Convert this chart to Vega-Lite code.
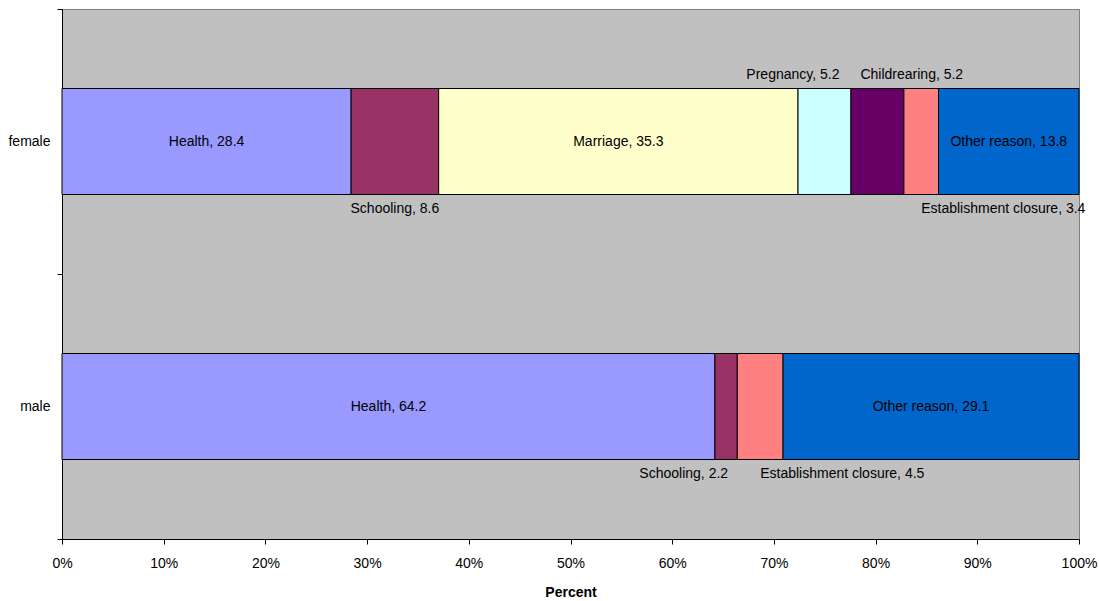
{
  "$schema": "https://vega.github.io/schema/vega-lite/v6.json",
  "width": 1017,
  "height": 530,
  "autosize": {"type": "none"},
  "padding": {"left": 62, "top": 9, "right": 20, "bottom": 62},
  "background": "white",
  "config": {
    "view": {"fill": "#C0C0C0", "stroke": "#808080", "strokeWidth": 1},
    "font": "Liberation Sans",
    "axis": {"labelFont": "Liberation Sans", "titleFont": "Liberation Sans", "labelColor": "black", "titleColor": "black", "domainColor": "black", "tickColor": "black", "labelFontSize": 14, "titleFontSize": 14, "grid": false}
  },
  "data": {
    "values": [
      {"sex": "female", "reason": "Health", "idx": 1, "value": 28.4},
      {"sex": "female", "reason": "Schooling", "idx": 2, "value": 8.6},
      {"sex": "female", "reason": "Marriage", "idx": 3, "value": 35.3},
      {"sex": "female", "reason": "Pregnancy", "idx": 4, "value": 5.2},
      {"sex": "female", "reason": "Childrearing", "idx": 5, "value": 5.2},
      {"sex": "female", "reason": "Establishment closure", "idx": 6, "value": 3.4},
      {"sex": "female", "reason": "Other reason", "idx": 7, "value": 13.8},
      {"sex": "male", "reason": "Health", "idx": 1, "value": 64.2},
      {"sex": "male", "reason": "Schooling", "idx": 2, "value": 2.2},
      {"sex": "male", "reason": "Establishment closure", "idx": 6, "value": 4.5},
      {"sex": "male", "reason": "Other reason", "idx": 7, "value": 29.1}
    ]
  },
  "transform": [
    {"stack": "value", "groupby": ["sex"], "sort": [{"field": "idx"}], "offset": "normalize", "as": ["v0", "v1"]},
    {"calculate": "(datum.v0 + datum.v1) / 2", "as": "mid"},
    {"calculate": "datum.reason + ', ' + format(datum.value, '.1f')", "as": "label"}
  ],
  "encoding": {
    "y": {
      "field": "sex", "type": "nominal", "sort": ["female", "male"],
      "scale": {"paddingInner": 0, "paddingOuter": 0},
      "axis": {"title": null, "tickBand": "extent", "tickSize": 5, "labelPadding": 7, "domainColor": "black"}
    }
  },
  "layer": [
    {
      "mark": {"type": "bar", "stroke": "black", "strokeWidth": 1, "height": {"band": 0.4}},
      "encoding": {
        "x": {"field": "v0", "type": "quantitative", "scale": {"domain": [0, 1], "nice": false},
              "axis": {"format": "%", "tickCount": 10, "title": "Percent", "titleFontWeight": "bold", "tickSize": 5, "labelPadding": 12, "labelFlush": false, "titlePadding": 15}},
        "x2": {"field": "v1"},
        "color": {"field": "reason", "type": "nominal", "legend": null,
          "scale": {"domain": ["Health", "Schooling", "Marriage", "Pregnancy", "Childrearing", "Establishment closure", "Other reason"],
                    "range": ["#9999FF", "#993366", "#FFFFCC", "#CCFFFF", "#660066", "#FF8080", "#0066CC"]}}
      }
    },
    {
      "transform": [{"filter": "datum.reason == 'Health' || datum.reason == 'Marriage' || datum.reason == 'Other reason'"}],
      "mark": {"type": "text", "fontSize": 14, "color": "black", "align": "center", "baseline": "middle"},
      "encoding": {"x": {"field": "mid", "type": "quantitative"}, "text": {"field": "label"}}
    },
    {
      "transform": [{"filter": "datum.sex == 'female' && datum.reason == 'Schooling'"}],
      "mark": {"type": "text", "fontSize": 14, "color": "black", "align": "center", "baseline": "middle", "dy": 67},
      "encoding": {"x": {"field": "mid", "type": "quantitative"}, "text": {"field": "label"}}
    },
    {
      "transform": [{"filter": "datum.sex == 'male' && datum.reason == 'Schooling'"}],
      "mark": {"type": "text", "fontSize": 14, "color": "black", "align": "right", "baseline": "middle", "dy": 67, "dx": 2},
      "encoding": {"x": {"field": "mid", "type": "quantitative"}, "text": {"field": "label"}}
    },
    {
      "transform": [{"filter": "datum.reason == 'Establishment closure'"}],
      "mark": {"type": "text", "fontSize": 14, "color": "black", "align": "left", "baseline": "middle", "dy": 67},
      "encoding": {"x": {"field": "mid", "type": "quantitative"}, "text": {"field": "label"}}
    },
    {
      "transform": [{"filter": "datum.reason == 'Pregnancy'"}],
      "mark": {"type": "text", "fontSize": 14, "color": "black", "align": "right", "baseline": "middle", "dy": -67, "dx": 15},
      "encoding": {"x": {"field": "mid", "type": "quantitative"}, "text": {"field": "label"}}
    },
    {
      "transform": [{"filter": "datum.reason == 'Childrearing'"}],
      "mark": {"type": "text", "fontSize": 14, "color": "black", "align": "left", "baseline": "middle", "dy": -67, "dx": -17},
      "encoding": {"x": {"field": "mid", "type": "quantitative"}, "text": {"field": "label"}}
    }
  ]
}
